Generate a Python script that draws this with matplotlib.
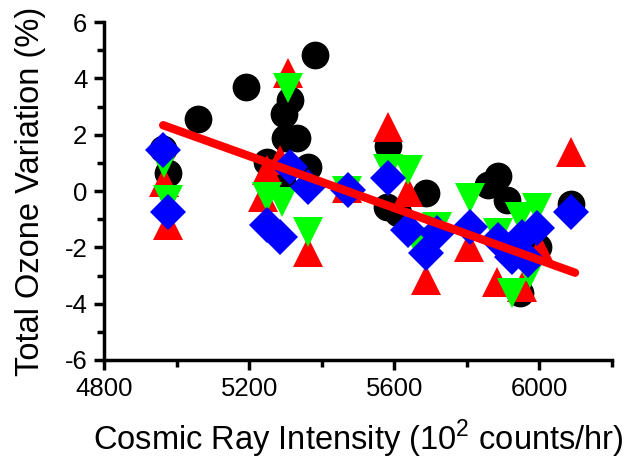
import matplotlib
matplotlib.use("Agg")
import matplotlib.pyplot as plt
from matplotlib.ticker import MultipleLocator

plt.rcParams['font.family'] = ['Liberation Sans', 'DejaVu Sans']
plt.rcParams['axes.unicode_minus'] = False
plt.rcParams['mathtext.fontset'] = 'custom'
plt.rcParams['mathtext.rm'] = 'Liberation Sans'

# Black circles
cx = [4963, 4976, 5059, 5191, 5381, 5312, 5296, 5299, 5332, 5249, 5362, 5290,
      5583, 5687, 5580, 5610, 5886, 5858, 5910, 5996, 5946, 6087]
cy = [1.5, 0.64, 2.55, 3.69, 4.82, 3.23, 2.73, 1.9, 1.9, 1.03, 0.86, 0.32,
      1.6, -0.08, -0.56, -0.78, 0.54, 0.21, -0.32, -1.98, -3.62, -0.46]
# Red up triangles
rx = [5307, 4965, 4976, 5238, 5285, 5249, 5362, 5470, 5583, 5638, 5687, 5806,
      5883, 5951, 6001, 6087]
ry = [4.18, 0.32, -1.2, -0.2, 1.1, 0.75, -2.15, 0.1, 2.27, -0.02, -3.16, -1.98,
      -3.22, -3.4, -2.1, 1.38]
# Green down triangles
gx = [5307, 4965, 4976, 5249, 5290, 5362, 5470, 5583, 5638, 5662, 5717, 5808,
      5886, 5924, 5946, 5993, 5974]
gy = [3.65, 1.0, -0.32, -0.2, -0.4, -1.45, 0.0, 0.8, 0.75, -1.8, -1.27, -0.25,
      -1.5, -3.62, -0.92, -0.6, -2.9]
# Blue diamonds
bx = [4963, 4976, 5249, 5285, 5312, 5362, 5472, 5583, 5638, 5687, 5717, 5808,
      5886, 5924, 5951, 5993, 5968, 6087]
by = [1.45, -0.74, -1.2, -1.63, 0.86, 0.15, 0.03, 0.45, -1.38, -2.2, -1.5, -1.27,
      -1.74, -2.33, -1.63, -1.32, -2.45, -0.74]
# Linear fit line endpoints
fx = [4963, 6098]
fy = [2.34, -2.9]

fig = plt.figure(figsize=(6.31, 4.62), dpi=100)
ax = fig.add_axes([0.1648, 0.2208, 0.8052, 0.7312])

ax.plot(cx, cy, 'o', color='black', markersize=20, markeredgewidth=0, linestyle='none')
ax.plot(rx, ry, '^', color='#ff0000', markersize=22, markeredgewidth=0, linestyle='none')
ax.plot(gx, gy, 'v', color='#00ff00', markersize=22, markeredgewidth=0, linestyle='none')
ax.plot(bx, by, 'D', color='#0000ff', markersize=18, markeredgewidth=0, linestyle='none')
ax.plot(fx, fy, '-', color='#ff0000', linewidth=6, solid_capstyle='round')

ax.set_xlim(4800, 6200)
ax.set_ylim(-6, 6)
ax.xaxis.set_major_locator(MultipleLocator(400))
ax.xaxis.set_minor_locator(MultipleLocator(200))
ax.yaxis.set_major_locator(MultipleLocator(2))
ax.yaxis.set_minor_locator(MultipleLocator(1))

for s in ['top', 'right']:
    ax.spines[s].set_visible(False)
for s in ['left', 'bottom']:
    ax.spines[s].set_linewidth(2.5)

ax.tick_params(which='major', direction='out', length=7, width=2.5, labelsize=18.5, pad=5)
ax.tick_params(which='minor', direction='out', length=5, width=2.5)

ax.set_xlabel('Cosmic Ray Intensity (10$^{\\mathregular{2}}$ counts/hr)', fontsize=23.5, labelpad=12)
ax.set_ylabel('Total Ozone Variation (%)', fontsize=23.5, labelpad=13)

fig.savefig('out.png', dpi=100)
